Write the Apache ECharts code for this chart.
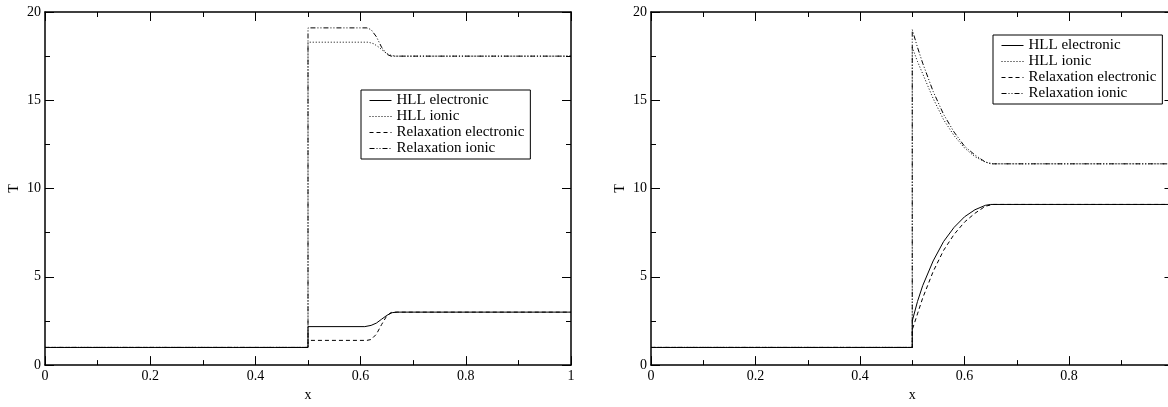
<!DOCTYPE html>
<html>
<head>
<meta charset="utf-8">
<script src="https://cdn.jsdelivr.net/npm/echarts@6/dist/echarts.min.js"></script>
<style>
html,body{margin:0;padding:0;background:#fff;overflow:hidden;width:1168px;height:407px;}
#c{width:1180px;height:407px;}
</style>
</head>
<body>
<div id="c"></div>
<script>
// ---- data ----
const seriesNames = ['HLL electronic', 'HLL ionic', 'Relaxation electronic', 'Relaxation ionic'];
const xTickLabels = ['0', '0.2', '0.4', '0.6', '0.8', '1'];
const yTickLabels = ['0', '5', '10', '15', '20'];

// Left panel
const leftHllElecX = [0, 0.5, 0.5, 0.608, 0.62, 0.63, 0.64, 0.65, 0.66, 0.67, 1];
const leftHllElecY = [1, 1, 2.18, 2.18, 2.25, 2.38, 2.6, 2.82, 2.97, 3.0, 3.0];
const leftHllIonX = [0, 0.5, 0.5, 0.615, 0.625, 0.635, 0.645, 0.655, 0.665, 1];
const leftHllIonY = [1, 1, 18.29, 18.29, 18.2, 18.0, 17.75, 17.57, 17.5, 17.5];
const leftRelElecX = [0, 0.5, 0.5, 0.612, 0.62, 0.63, 0.64, 0.65, 0.658, 0.665, 1];
const leftRelElecY = [1, 1, 1.4, 1.4, 1.45, 1.75, 2.3, 2.8, 2.98, 3.0, 3.0];
const leftRelIonX = [0, 0.5, 0.5, 0.612, 0.62, 0.63, 0.64, 0.65, 0.658, 1];
const leftRelIonY = [1, 1, 19.1, 19.1, 19.0, 18.6, 18.0, 17.6, 17.5, 17.5];

// Right panel
const rightHllElecX = [0, 0.5, 0.5, 0.51, 0.52, 0.54, 0.56, 0.58, 0.60, 0.62, 0.64, 0.65, 1];
const rightHllElecY = [1, 1, 2.5, 3.6, 4.5, 5.9, 7.0, 7.8, 8.4, 8.8, 9.05, 9.1, 9.1];
const rightHllIonX = [0, 0.5, 0.5, 0.51, 0.52, 0.54, 0.56, 0.58, 0.60, 0.62, 0.64, 0.65, 1];
const rightHllIonY = [1, 1, 18.0, 17.2, 16.5, 15.1, 13.9, 13.0, 12.3, 11.8, 11.5, 11.4, 11.4];
const rightRelElecX = [0, 0.5, 0.5, 0.51, 0.52, 0.54, 0.56, 0.58, 0.60, 0.62, 0.64, 0.655, 1];
const rightRelElecY = [1, 1, 2.0, 2.9, 3.8, 5.3, 6.5, 7.4, 8.1, 8.6, 9.0, 9.1, 9.1];
const rightRelIonX = [0, 0.5, 0.5, 0.51, 0.52, 0.54, 0.56, 0.58, 0.60, 0.62, 0.64, 0.655, 1];
const rightRelIonY = [1, 1, 19.0, 18.0, 17.1, 15.5, 14.2, 13.2, 12.4, 11.9, 11.5, 11.4, 11.4];

// ---- chart ----
const FONT = 'Liberation Serif';
const FS = 14;
const pair = (xs, ys) => xs.map((x, i) => [x, ys[i]]);
const lineTypes = ['solid', [1, 2], [4, 3], [5, 2, 1, 2, 1, 2]];

function xAxes(gi) {
  const base = {
    gridIndex: gi, type: 'value', min: 0, max: 1, interval: 0.2,
    axisLine: {show: true, onZero: false, lineStyle: {color: '#000', width: 1.5}},
    splitLine: {show: false},
    axisTick: {show: true, inside: true, length: 9, lineStyle: {color: '#000'}},
    minorTick: {show: true, splitNumber: 2, length: 5, lineStyle: {color: '#000'}},
  };
  return [
    Object.assign({}, base, {
      position: 'bottom', name: 'x', nameLocation: 'middle', nameGap: 15,
      nameTextStyle: {fontFamily: FONT, fontSize: FS, color: '#000'},
      axisLabel: {fontFamily: FONT, fontSize: FS, color: '#000', margin: 4,
        formatter: v => xTickLabels[Math.round(v / 0.2)]}
    }),
    Object.assign({}, base, {position: 'top', axisLabel: {show: false}})
  ];
}
function yAxes(gi) {
  const base = {
    gridIndex: gi, type: 'value', min: 0, max: 20, interval: 5,
    axisLine: {show: true, onZero: false, lineStyle: {color: '#000', width: 1.5}},
    splitLine: {show: false},
    axisTick: {show: true, inside: true, length: 9, lineStyle: {color: '#000'}},
    minorTick: {show: true, splitNumber: 2, length: 5, lineStyle: {color: '#000'}},
  };
  return [
    Object.assign({}, base, {
      position: 'left', name: 'T', nameLocation: 'middle', nameGap: 24, nameRotate: 90,
      nameTextStyle: {fontFamily: FONT, fontSize: FS, color: '#000'},
      axisLabel: {fontFamily: FONT, fontSize: FS, color: '#000', margin: 4,
        formatter: v => yTickLabels[Math.round(v / 5)]}
    }),
    Object.assign({}, base, {position: 'right', axisLabel: {show: false}})
  ];
}

const leftData = [pair(leftHllElecX, leftHllElecY), pair(leftHllIonX, leftHllIonY),
                  pair(leftRelElecX, leftRelElecY), pair(leftRelIonX, leftRelIonY)];
const rightData = [pair(rightHllElecX, rightHllElecY), pair(rightHllIonX, rightHllIonY),
                   pair(rightRelElecX, rightRelElecY), pair(rightRelIonX, rightRelIonY)];

const series = [];
[leftData, rightData].forEach((set, gi) => {
  set.forEach((d, i) => {
    series.push({
      type: 'line', name: seriesNames[i], data: d,
      xAxisIndex: gi * 2, yAxisIndex: gi * 2,
      showSymbol: false, symbol: 'none', smooth: false, animation: false,
      lineStyle: {color: '#000', width: 1, type: lineTypes[i]},
      itemStyle: {color: '#000'}, z: 10 - i
    });
  });
});

const legendBase = {
  show: true, orient: 'vertical', data: seriesNames, itemWidth: 22, itemHeight: 14, itemGap: 1,
  borderColor: '#000', borderWidth: 1, borderRadius: 0, padding: [3, 6, 3, 8],
  backgroundColor: '#fff', selectedMode: false,
  itemStyle: {opacity: 0, borderWidth: 0},
  lineStyle: {width: 1},
  textStyle: {fontFamily: FONT, fontSize: 15, color: '#000'}
};

const chart = echarts.init(document.getElementById('c'), null, {renderer: 'canvas'});
chart.setOption({
  animation: false,
  backgroundColor: '#fff',
  grid: [
    {left: 45, top: 12, width: 526, height: 367, containLabel: false},
    {left: 651, top: 12, width: 525, height: 367, containLabel: false}
  ],
  xAxis: xAxes(0).concat(xAxes(1)),
  yAxis: yAxes(0).concat(yAxes(1)),
  legend: [
    Object.assign({}, legendBase, {left: 361, top: 90}),
    Object.assign({}, legendBase, {left: 993, top: 35})
  ],
  series: series
});
</script>
</body>
</html>
